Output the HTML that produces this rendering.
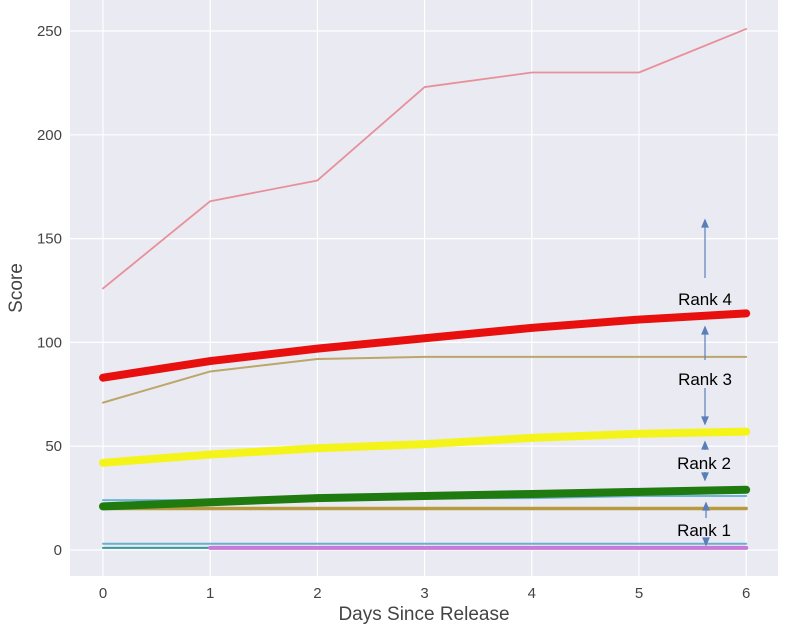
<!DOCTYPE html>
<html><head><meta charset="utf-8"><style>
body{margin:0;background:#fff;width:800px;height:630px;overflow:hidden}
svg text{font-family:"Liberation Sans",sans-serif}
</style></head><body>
<svg id="chart" width="800" height="630" xmlns="http://www.w3.org/2000/svg">
<rect x="70" y="0" width="708" height="576" fill="#eaeaf2"/>
<g id="grid"></g><g id="series"></g><g id="ticks"></g>
<text x="424" y="620" font-size="19" fill="#444" text-anchor="middle">Days Since Release</text>
<text transform="translate(22,288) rotate(-90)" font-size="19" fill="#444" text-anchor="middle">Score</text>
<g id="annot" font-family="Calibri,'Liberation Sans Narrow','Liberation Sans',sans-serif" font-size="17" fill="#000">
<text x="705" y="305" text-anchor="middle">Rank 4</text>
<text x="705" y="385" text-anchor="middle">Rank 3</text>
<text x="704" y="469" text-anchor="middle">Rank 2</text>
<text x="704" y="536" text-anchor="middle">Rank 1</text>
</g>
<g id="arrows" stroke="#5a7fb8" stroke-width="1.2" fill="#5a7fb8"></g>
</svg>
<script>
const days=[0,1,2,3,4,5,6];
const yTicks=[0,50,100,150,200,250];
const pink=[126,168,178,223,230,230,251];
const red=[83,91,97,102,107,111,114];
const tan=[71,86,92,93,93,93,93];
const yellow=[42,46,49,51,54,56,57];
const lblue=[24,24,24,25,25,26,26];
const gold=[20,20,20,20,20,20,20];
const green=[21,23,25,26,27,28,29];
const blue=[3,3,3,3,3,3,3];
const tealDays=[0,1];const teal=[1,1];
const purpleDays=[1,2,3,4,5,6];const purple=[1,1,1,1,1,1];
const X=d=>103+d*107.2, Y=v=>550-v*2.076;
const NS="http://www.w3.org/2000/svg";
function mk(tag,attrs,parent){const e=document.createElementNS(NS,tag);for(const k in attrs)e.setAttribute(k,attrs[k]);document.getElementById(parent).appendChild(e);return e;}
days.forEach(d=>{
 const l=mk('line',{x1:X(d),x2:X(d),y1:0,y2:576,stroke:'#fff','stroke-width':1.2},'grid');
 
 
 const t=mk('text',{x:X(d),y:598,'font-size':15,fill:'#444','text-anchor':'middle'},'ticks');t.textContent=d;
 
 
});
yTicks.forEach(v=>{
 const l=mk('line',{x1:70,x2:778,y1:Y(v),y2:Y(v),stroke:'#fff','stroke-width':1.2},'grid');
 
 
 const t=mk('text',{x:62,y:Y(v)+5,'font-size':15,fill:'#444','text-anchor':'end'},'ticks');t.textContent=v;
 
 
});
function line(xs,vals,color,w,name){
 const p=mk('polyline',{points:xs.map((d,i)=>X(d)+','+Y(vals[i])).join(' '),fill:'none',stroke:color,'stroke-width':w,'stroke-linecap':'round','stroke-linejoin':'round'},'series');
 
 
}
line(days,pink,'#e8909a',1.8,'pink-series');
line(days,tan,'#bda66a',2,'tan-series');
line(days,lblue,'#6fb3d8',2,'light-blue-series');
line(days,gold,'#b89a40',3.5,'gold-series');
line(days,blue,'#6aaed0',2,'blue-series');
line(tealDays,teal,'#3a9a9a',2,'teal-series');
line(purpleDays,purple,'#c77ad8',4,'purple-series');
line(days,yellow,'#f4f41a',8,'yellow-series');
line(days,green,'#1f7a10',8,'green-series');
line(days,red,'#e8100e',8,'red-series');
function arrow(x,y1,y2,name){
 const g=mk('g',{},'arrows');
 
 
 const n=document.createElementNS(NS,'line');n.setAttribute('x1',x);n.setAttribute('x2',x);n.setAttribute('y1',y1);n.setAttribute('y2',y2);g.appendChild(n);
 const dir=y2<y1?1:-1;const p=document.createElementNS(NS,'polygon');
 p.setAttribute('points',`${x},${y2} ${x-3},${y2+dir*7} ${x+3},${y2+dir*7}`);g.appendChild(p);
}
arrow(705,278,220,'rank-4-arrow-up');
arrow(705,360,327,'rank-3-arrow-up');
arrow(705,388,424,'rank-3-arrow-down');
arrow(705,450,442,'rank-2-arrow-up');
arrow(705,472,480,'rank-2-arrow-down');
arrow(706,518,503,'rank-1-arrow-up');
arrow(706,538,545,'rank-1-arrow-down');
</script>
</body></html>
